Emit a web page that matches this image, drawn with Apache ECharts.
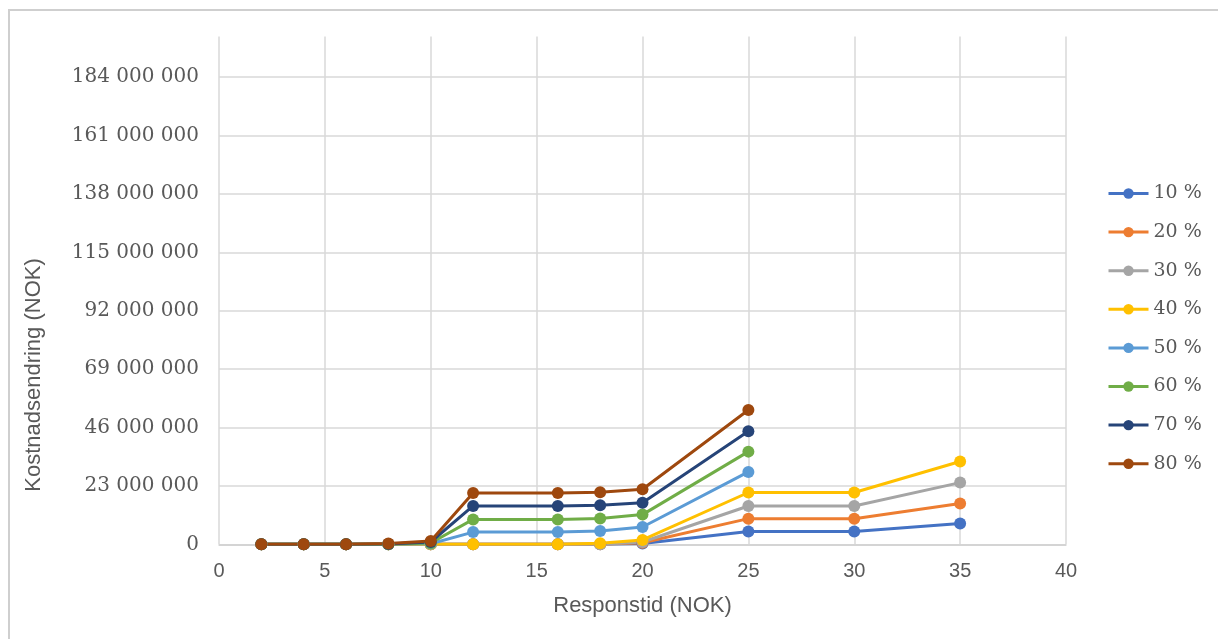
<!DOCTYPE html>
<html>
<head>
<meta charset="utf-8">
<title>Kostnadsendring</title>
<script src="https://cdn.jsdelivr.net/npm/echarts@6/dist/echarts.min.js"></script>
<style>
  html, body { margin: 0; padding: 0; background: #ffffff; }
  #chart { width: 1218px; height: 639px; }
</style>
</head>
<body>
<div id="chart"></div>
<script>
// Responstid (x) and cost change per share, in millions NOK
const responstid = [2, 4, 6, 8, 10, 12, 16, 18, 20, 25, 30, 35];
const seriesNames = ['10 %', '20 %', '30 %', '40 %', '50 %', '60 %', '70 %', '80 %'];
const pct10 = [0, 0, 0, 0, 0, 0, 0, 0, 0.3, 5.0, 5.0, 8.2];
const pct20 = [0, 0, 0, 0, 0, 0, 0, 0, 0.6, 10.1, 10.1, 16.1];
const pct30 = [0, 0, 0, 0, 0, 0, 0, 0, 0.9, 15.1, 15.1, 24.3];
const pct40 = [0, 0, 0, 0, 0, 0, 0, 0.4, 1.7, 20.4, 20.4, 32.6];
const pct50 = [0, 0, 0, 0, 0.2, 4.8, 4.8, 5.2, 6.8, 28.5, null, null];
const pct60 = [0, 0, 0, 0, 0.5, 9.8, 9.8, 10.2, 11.7, 36.5, null, null];
const pct70 = [0, 0, 0, 0.1, 0.9, 15.1, 15.1, 15.4, 16.4, 44.5, null, null];
const pct80 = [0, 0, 0, 0.3, 1.3, 20.2, 20.2, 20.5, 21.7, 52.9, null, null];
const seriesValues = [pct10, pct20, pct30, pct40, pct50, pct60, pct70, pct80];
const colors = ['#4472C4', '#ED7D31', '#A5A5A5', '#FFC000', '#5B9BD5', '#70AD47', '#264478', '#9E480E'];

// axis ranges
const xMin = 0, xMax = 40, xStep = 5;
const yMin = 0, yMax = 200000000, yStep = 23000000;
const MILLION = 1e6;

const grey = '#595959';
const gridGrey = '#d9d9d9';

function spaced(v) {
  return String(Math.round(v)).replace(/\B(?=(\d{3})+(?!\d))/g, ' ');
}

const chart = echarts.init(document.getElementById('chart'), null, { renderer: 'canvas' });

const series = seriesNames.map((name, i) => ({
  name: name,
  type: 'line',
  symbol: 'circle',
  symbolSize: 12,
  connectNulls: false,
  lineStyle: { width: 3, color: colors[i] },
  itemStyle: { color: colors[i] },
  emphasis: { disabled: true },
  data: responstid.map((x, k) => [x, seriesValues[i][k] == null ? null : seriesValues[i][k] * MILLION])
}));

chart.setOption({
  animation: false,
  color: colors,
  grid: { left: 219, right: 152, top: 36.5, bottom: 94.7, containLabel: false },
  xAxis: {
    type: 'value',
    min: xMin, max: xMax, interval: xStep,
    name: 'Responstid (NOK)',
    nameLocation: 'middle',
    nameGap: 51,
    nameTextStyle: { color: grey, fontFamily: 'Liberation Sans', fontSize: 22 },
    axisLine: { show: true, onZero: false, lineStyle: { color: '#cfcfcf', width: 1.5 } },
    axisTick: { show: false },
    axisLabel: { color: grey, fontFamily: 'Liberation Sans', fontSize: 20, margin: 17 },
    splitLine: { show: true, lineStyle: { color: gridGrey, width: 1.5 } }
  },
  yAxis: {
    type: 'value',
    min: yMin, max: yMax, interval: yStep,
    axisLine: { show: false },
    axisTick: { show: false },
    axisLabel: {
      color: grey, fontFamily: 'DejaVu Serif', fontSize: 20, margin: 20,
      showMaxLabel: false,
      formatter: spaced
    },
    splitLine: { show: true, showMaxLine: false, lineStyle: { color: gridGrey, width: 1.5 } }
  },
  legend: {
    orient: 'vertical',
    left: 1107,
    top: 184,
    padding: 0,
    itemWidth: 40,
    itemHeight: 13,
    itemGap: 19.6,
    lineStyle: { width: 3 },
    textStyle: { color: grey, fontFamily: 'DejaVu Serif', fontSize: 19 },
    data: seriesNames
  },
  graphic: [
    {
      type: 'rect',
      silent: true,
      shape: { x: 9, y: 10, width: 1400, height: 800 },
      style: { fill: null, stroke: '#cfcfcf', lineWidth: 2 }
    },
    {
      type: 'text',
      silent: true,
      x: 34,
      y: 375,
      rotation: Math.PI / 2,
      style: {
        text: 'Kostnadsendring (NOK)',
        fill: grey,
        fontFamily: 'Liberation Sans',
        fontSize: 22,
        textAlign: 'center',
        textVerticalAlign: 'middle',
        align: 'center',
        verticalAlign: 'middle'
      }
    }
  ],
  series: series
});
</script>
</body>
</html>
